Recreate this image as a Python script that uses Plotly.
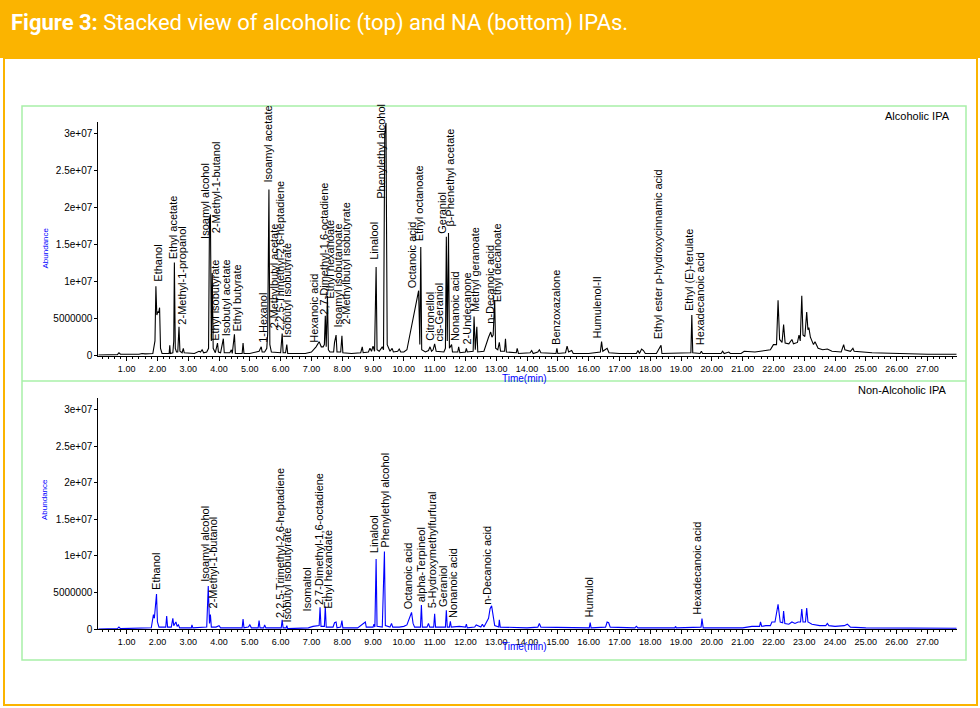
import plotly.graph_objects as go

# chromatogram, alcoholic IPA: retention time (min) / abundance (x1e6)
alc_time = [0.08, 0.70, 0.75, 0.80, 1.40, 1.50, 1.60, 1.85, 1.92, 1.95, 1.98, 2.02, 2.04, 2.07, 2.10, 2.15,
            2.38, 2.40, 2.42, 2.50, 2.53, 2.55, 2.58, 2.62, 2.66, 2.70, 2.73, 2.80, 2.84, 2.87, 3.20, 3.35,
            3.40, 3.45, 3.50, 3.60, 3.66, 3.69, 3.72, 3.75, 3.78, 3.81, 3.88, 3.95, 3.98, 4.05, 4.14, 4.17,
            4.35, 4.40, 4.43, 4.50, 4.53, 4.75, 4.78, 4.81, 5.00, 5.20, 5.30, 5.37, 5.40, 5.48, 5.55, 5.58,
            5.62, 5.65, 5.70, 6.00, 6.05, 6.08, 6.16, 6.20, 6.23, 6.50, 6.80, 7.00, 7.15, 7.25, 7.32, 7.38,
            7.42, 7.45, 7.48, 7.52, 7.55, 7.60, 7.72, 7.75, 7.80, 7.83, 7.95, 7.99, 8.02, 8.30, 8.60, 8.65,
            8.68, 8.85, 8.90, 8.95, 9.00, 9.05, 9.10, 9.13, 9.20, 9.30, 9.34, 9.38, 9.42, 9.46, 9.55, 9.62,
            9.66, 9.80, 9.85, 9.90, 10.00, 10.10, 10.25, 10.40, 10.48, 10.52, 10.55, 10.58, 10.70, 10.80,
            10.85, 10.90, 10.95, 11.00, 11.05, 11.30, 11.35, 11.38, 11.41, 11.45, 11.48, 11.55, 11.58, 11.75,
            11.78, 11.82, 12.00, 12.03, 12.06, 12.25, 12.28, 12.32, 12.37, 12.40, 12.60, 12.75, 12.82, 12.86,
            12.90, 12.95, 12.98, 13.05, 13.10, 13.14, 13.27, 13.30, 13.33, 13.65, 13.68, 13.72, 14.10, 14.15,
            14.20, 14.35, 14.40, 14.45, 14.94, 14.97, 15.00, 15.25, 15.30, 15.35, 15.45, 15.50, 15.70, 16.00,
            16.38, 16.42, 16.46, 16.60, 16.66, 17.00, 17.55, 17.60, 17.65, 17.72, 17.78, 17.84, 18.20, 18.35,
            18.38, 19.00, 19.32, 19.35, 19.38, 19.62, 19.66, 19.70, 20.30, 20.35, 20.40, 20.55, 20.60, 20.95,
            21.05, 21.40, 21.90, 22.00, 22.10, 22.15, 22.20, 22.28, 22.33, 22.38, 22.50, 22.60, 22.65, 22.78,
            22.83, 22.87, 22.92, 22.96, 23.02, 23.08, 23.12, 23.15, 23.20, 23.30, 23.35, 23.45, 23.60, 23.75,
            23.90, 24.20, 24.28, 24.32, 24.50, 24.58, 24.62, 25.20, 26.00, 27.00, 27.95]
alc_abund = [0.1, 0.15, 0.4, 0.2, 0.2, 0.3, 0.25, 0.3, 2.0, 9.4, 5.5, 6.0, 5.8, 6.5, 1.0, 0.3,
             0.3, 1.4, 0.3, 0.4, 2.0, 12.6, 1.0, 0.5, 0.5, 3.9, 0.6, 0.4, 1.0, 0.4, 0.3, 0.6,
             0.5, 0.8, 0.4, 0.5, 1.0, 18.5, 19.1, 2.0, 11.2, 1.0, 0.4, 1.7, 0.5, 0.4, 2.3, 0.4,
             0.4, 0.8, 0.3, 2.9, 0.3, 0.3, 1.7, 0.3, 0.3, 0.5, 0.6, 1.2, 0.5, 0.5, 1.0, 3.0,
             22.5, 1.5, 0.5, 0.4, 3.0, 0.4, 0.4, 1.5, 0.3, 0.3, 0.3, 0.5, 1.2, 1.9, 1.2, 1.2,
             1.5, 5.4, 1.2, 8.1, 0.8, 0.5, 0.5, 1.8, 2.8, 0.5, 0.5, 2.7, 0.4, 0.3, 0.4, 1.2,
             0.4, 0.5, 1.0, 0.6, 1.3, 0.6, 12.0, 0.8, 0.6, 1.2, 0.8, 30.0, 31.5, 1.5, 0.6, 1.0,
             0.5, 0.6, 0.9, 0.5, 0.5, 0.8, 4.0, 7.0, 8.8, 1.5, 14.7, 0.8, 0.5, 0.7,
             1.2, 0.6, 0.8, 1.6, 0.6, 0.5, 1.0, 16.1, 2.0, 16.6, 1.0, 1.5, 0.5, 0.5,
             1.2, 0.4, 0.5, 1.0, 0.5, 0.6, 5.3, 0.8, 3.9, 0.5, 0.6, 2.5, 3.2, 2.5,
             2.8, 7.5, 1.0, 0.8, 1.8, 0.6, 0.6, 2.3, 0.5, 0.4, 1.0, 0.3, 0.4, 0.7,
             0.3, 0.5, 0.8, 0.4, 0.3, 1.0, 0.3, 0.4, 1.3, 0.5, 0.7, 0.3, 0.3, 0.3,
             0.5, 1.9, 0.6, 1.0, 0.4, 0.3, 0.3, 0.7, 0.3, 0.9, 0.7, 0.3, 0.3, 1.4,
             0.3, 0.3, 0.4, 5.5, 0.4, 0.3, 0.6, 0.3, 0.3, 0.6, 0.3, 0.5, 0.3, 0.3,
             0.6, 0.5, 0.8, 1.5, 1.5, 7.5, 2.2, 1.8, 4.2, 1.7, 1.6, 2.2, 1.6, 1.8,
             2.8, 2.0, 8.1, 2.8, 2.6, 5.9, 3.5, 3.8, 2.5, 1.5, 1.9, 1.0, 0.8, 0.9,
             0.6, 0.5, 1.5, 0.8, 0.6, 1.0, 0.6, 0.4, 0.3, 0.2, 0.2]

# chromatogram, non-alcoholic IPA
na_time = [0.08, 0.70, 0.75, 0.80, 1.80, 1.87, 1.90, 1.97, 2.00, 2.05, 2.27, 2.30, 2.33, 2.45, 2.50, 2.53,
           2.60, 2.64, 2.68, 2.72, 3.10, 3.12, 3.15, 3.60, 3.65, 3.69, 3.72, 3.75, 3.90, 4.00, 4.05, 4.75,
           4.78, 4.81, 4.95, 5.00, 5.05, 5.27, 5.30, 5.33, 5.45, 5.48, 5.52, 6.02, 6.05, 6.08, 6.18, 6.20,
           6.23, 6.90, 7.05, 7.15, 7.25, 7.28, 7.31, 7.42, 7.45, 7.48, 7.70, 7.75, 7.80, 7.83, 7.95, 7.99,
           8.02, 8.50, 8.70, 8.75, 8.78, 9.00, 9.03, 9.06, 9.10, 9.13, 9.30, 9.37, 9.40, 9.55, 9.60, 9.64,
           9.85, 10.00, 10.10, 10.25, 10.30, 10.35, 10.54, 10.57, 10.60, 10.75, 10.80, 10.84, 10.97, 11.00,
           11.03, 11.35, 11.38, 11.41, 11.48, 11.51, 11.54, 11.80, 12.00, 12.03, 12.06, 12.30, 12.35, 12.50,
           12.55, 12.60, 12.75, 12.80, 12.85, 12.90, 12.95, 13.08, 13.10, 13.13, 14.00, 14.35, 14.40, 14.45,
           15.30, 16.02, 16.05, 16.08, 16.55, 16.60, 16.65, 16.70, 17.50, 17.55, 17.60, 18.80, 18.82, 18.85,
           19.65, 19.68, 19.72, 21.00, 21.30, 21.55, 21.58, 21.62, 21.75, 21.90, 21.95, 22.05, 22.15, 22.22,
           22.30, 22.33, 22.37, 22.50, 22.60, 22.70, 22.80, 22.88, 22.92, 22.96, 23.04, 23.08, 23.12, 23.25,
           23.50, 23.70, 23.75, 23.80, 24.00, 24.30, 24.40, 24.50, 25.00, 26.00, 27.00, 27.95]
na_abund = [0.05, 0.1, 0.3, 0.1, 0.2, 2.0, 1.5, 4.8, 1.0, 0.3, 0.3, 1.8, 0.3, 0.3, 1.5, 0.5,
            1.0, 0.4, 0.6, 0.2, 0.2, 0.6, 0.2, 0.3, 5.9, 0.8, 2.0, 0.3, 0.3, 0.5, 0.2, 0.2,
            1.4, 0.2, 0.3, 0.6, 0.2, 0.2, 1.2, 0.2, 0.2, 0.6, 0.2, 0.2, 1.3, 0.2, 0.2, 0.5,
            0.1, 0.2, 0.4, 0.5, 0.5, 3.0, 0.4, 0.4, 3.1, 0.3, 0.3, 0.9, 1.0, 0.2, 0.3, 1.2,
            0.2, 0.2, 0.8, 1.0, 0.3, 0.3, 0.7, 0.3, 9.6, 0.4, 0.3, 10.6, 0.5, 0.3, 0.8, 0.3,
            0.3, 0.4, 0.6, 2.3, 0.8, 0.3, 0.3, 3.3, 0.3, 0.3, 0.8, 0.3, 0.3, 2.1,
            0.3, 0.3, 2.6, 0.3, 0.3, 1.1, 0.3, 0.4, 0.3, 0.7, 0.2, 0.3, 0.6, 0.3,
            0.7, 0.3, 1.5, 2.8, 3.2, 1.5, 0.5, 0.3, 1.3, 0.3, 0.2, 0.3, 0.8, 0.3,
            0.2, 0.2, 0.9, 0.2, 0.3, 1.0, 0.9, 0.3, 0.2, 0.4, 0.2, 0.2, 0.4, 0.2,
            0.3, 1.45, 0.2, 0.2, 0.4, 0.4, 1.0, 0.4, 0.5, 0.5, 1.0, 1.0, 3.4, 1.0,
            0.9, 2.5, 0.8, 0.7, 1.0, 0.8, 1.0, 1.0, 2.75, 1.0, 1.0, 2.9, 1.0, 0.7,
            0.5, 0.5, 0.8, 0.5, 0.4, 0.5, 0.7, 0.3, 0.2, 0.2, 0.2, 0.15]

# peak labels (label time, bottom of label in abundance x1e6)
alc_names = ["Ethanol", "Ethyl acetate", "2-Methyl-1-propanol", "Isoamyl alcohol", "2-Methyl-1-butanol",
             "Ethyl isobutyrate", "Isobutyl acetate", "Ethyl butyrate", "1-Hexanol", "Isoamyl acetate",
             "2-Methylbutyl acetate", "2,2,5-Trimethyl-2,6-heptadiene", "Isobutyl isobutyrate",
             "Hexanoic acid", "2,7-Dimethyl-1,6-octadiene", "Ethyl hexanoate", "Isoamyl isobutanoate",
             "2-Methylbutyl isobutyrate", "Linalool", "Phenylethyl alcohol", "Octanoic acid",
             "Ethyl octanoate", "Citronellol", "cis-Geraniol", "Geraniol", "β-Phenethyl acetate",
             "Nonanoic acid", "2-Undecanone", "Methyl geranoate", "n-Decanoic acid", "Ethyl decanoate",
             "Benzoxazalone", "Humulenol-II", "Ethyl ester p-hydroxycinnamic acid", "Ethyl (E)-ferulate",
             "Hexadecanoic acid"]
alc_label_time = [1.99, 2.51, 2.79, 3.56, 3.90, 3.89, 4.21, 4.57, 5.42, 5.59, 5.78, 5.98, 6.21, 7.09,
                  7.38, 7.60, 7.85, 8.11, 9.03, 9.25, 10.27, 10.52, 10.85, 11.14, 11.23, 11.50, 11.66,
                  12.04, 12.31, 12.80, 13.03, 14.96, 16.28, 18.24, 19.26, 19.61]
alc_label_y = [9.7, 12.8, 3.9, 15.6, 16.3, 1.76, 2.35, 3.0, 1.45, 23.1, 3.5, 3.1, 2.1, 1.45, 5.3, 7.5,
               3.5, 3.9, 12.7, 21.0, 8.8, 15.2, 1.7, 1.7, 16.2, 17.2, 1.7, 1.2, 5.7, 4.0, 6.9, 1.2,
               2.1, 1.9, 5.7, 1.2]

na_names = ["Ethanol", "Isoamyl alcohol", "2-Methyl-1-butanol", "2,2,5-Trimethyl-2,6-heptadiene",
            "Isobutyl isobutyrate", "Isomaltol", "2,7-Dimethyl-1,6-octadiene", "Ethyl hexandate",
            "Linalool", "Phenylethyl alcohol", "Octanoic acid", "alpha-Terpineol",
            "5-Hydroxymethylfurfural", "Geraniol", "Nonanoic acid", "n-Decanoic acid", "Humulol",
            "Hexadecanoic acid"]
na_label_time = [1.97, 3.54, 3.81, 5.98, 6.21, 6.84, 7.25, 7.55, 9.03, 9.39, 10.14, 10.55, 10.90,
                 11.28, 11.60, 12.71, 16.00, 19.53]
na_label_y = [5.1, 6.2, 2.6, 1.27, 0.6, 2.1, 3.05, 2.5, 10.1, 10.8, 2.4, 3.45, 2.6, 2.8, 1.3, 3.05,
              1.3, 1.7]

x_ticks = list(range(1, 28))
y_ticks = [0, 5e6, 1e7, 1.5e7, 2e7, 2.5e7, 3e7]
y_tick_text = ["0", "5000000", "1e+07", "1.5e+07", "2e+07", "2.5e+07", "3e+07"]

W, H = 980, 708
ORANGE = "#FBB400"
GREEN = "#A8F0A8"
FONT = "Liberation Sans, Arial, sans-serif"


def px(v):
    return v / W


def py(v):
    return 1 - v / H


fig = go.Figure()
fig.add_trace(go.Scatter(x=alc_time, y=[a * 1e6 for a in alc_abund], mode="lines",
                         line=dict(color="black", width=1.1), xaxis="x", yaxis="y"))
fig.add_trace(go.Scatter(x=na_time, y=[a * 1e6 for a in na_abund], mode="lines",
                         line=dict(color="#0000FF", width=1.1), xaxis="x2", yaxis="y2"))

annotations = []
for name, t, y in zip(alc_names, alc_label_time, alc_label_y):
    annotations.append(dict(x=t, y=y * 1e6, xref="x", yref="y", text=name, showarrow=False,
                            textangle=-90, xanchor="center", yanchor="bottom",
                            font=dict(family=FONT, size=11, color="black")))
for name, t, y in zip(na_names, na_label_time, na_label_y):
    annotations.append(dict(x=t, y=y * 1e6, xref="x2", yref="y2", text=name, showarrow=False,
                            textangle=-90, xanchor="center", yanchor="bottom",
                            font=dict(family=FONT, size=11, color="black")))

# title and panel texts
annotations += [
    dict(x=px(9), y=py(23), xref="paper", yref="paper", xanchor="left", yanchor="middle",
         showarrow=False, text="<b>Figure 3:</b> Stacked view of alcoholic (top) and NA (bottom) IPAs.",
         font=dict(family="Liberation Sans Narrow, Roboto, sans-serif", size=22, color="white")),
    dict(x=px(952), y=py(116), xref="paper", yref="paper", xanchor="right", yanchor="middle",
         showarrow=False, text="Alcoholic IPA", font=dict(family=FONT, size=11, color="black")),
    dict(x=px(948), y=py(390), xref="paper", yref="paper", xanchor="right", yanchor="middle",
         showarrow=False, text="Non-Alcoholic IPA", font=dict(family=FONT, size=11, color="black")),
    dict(x=px(38), y=py(248), xref="paper", yref="paper", textangle=-90, showarrow=False,
         text="Abundance", font=dict(family=FONT, size=8, color="#0000FF")),
    dict(x=px(38), y=py(522), xref="paper", yref="paper", textangle=-90, showarrow=False,
         text="Abundance", font=dict(family=FONT, size=8, color="#0000FF")),
    dict(x=px(524), y=py(378), xref="paper", yref="paper", showarrow=False,
         text="Time(min)", font=dict(family=FONT, size=10, color="#0000FF")),
    dict(x=px(524), y=py(654), xref="paper", yref="paper", showarrow=False,
         text="Time(min)", font=dict(family=FONT, size=10, color="#0000FF")),
]

shapes = [
    dict(type="rect", xref="paper", yref="paper", x0=0, x1=1, y0=py(58), y1=1,
         fillcolor=ORANGE, line=dict(width=0), layer="below"),
    dict(type="rect", xref="paper", yref="paper", x0=px(4), x1=px(977), y0=py(705), y1=py(58),
         line=dict(color=ORANGE, width=2), layer="below"),
    dict(type="rect", xref="paper", yref="paper", x0=px(22), x1=px(966), y0=py(660), y1=py(106),
         line=dict(color=GREEN, width=1.5), layer="below"),
    dict(type="line", xref="paper", yref="paper", x0=px(22), x1=px(966), y0=py(381), y1=py(381),
         line=dict(color=GREEN, width=1.5), layer="below"),
]

xax = dict(range=[0.08, 27.95], showline=True, linecolor="black", linewidth=1, showgrid=False,
           zeroline=False, automargin=False, tickvals=x_ticks, ticktext=["%.2f" % v for v in x_ticks],
           ticks="outside", ticklen=4, tickcolor="black",
           minor=dict(dtick=0.2, ticks="outside", ticklen=2, tickcolor="black"),
           tickfont=dict(family=FONT, size=9, color="black"), domain=[px(98.3), px(956.7)])
yax = dict(range=[0, 3.162e7], showline=True, linecolor="black", linewidth=1, showgrid=False,
           zeroline=False, automargin=False, tickvals=y_ticks, ticktext=y_tick_text, ticks="outside",
           ticklen=3, tickcolor="black", tickfont=dict(family=FONT, size=10, color="black"))

fig.update_layout(
    template="none",
    width=W, height=H, margin=dict(l=0, r=0, t=0, b=0, pad=0),
    paper_bgcolor="white", plot_bgcolor="white", showlegend=False,
    xaxis=dict(xax, anchor="y"),
    yaxis=dict(yax, anchor="x", domain=[py(355.7), py(122)]),
    xaxis2=dict(xax, anchor="y2"),
    yaxis2=dict(yax, anchor="x2", domain=[py(629.3), py(397.5)]),
    annotations=annotations, shapes=shapes,
)

# drop the default page margin so the figure sits at the window's top-left corner
fig.write_html("out.html", config={"displayModeBar": False},
               post_script="document.body.style.margin='0';")
